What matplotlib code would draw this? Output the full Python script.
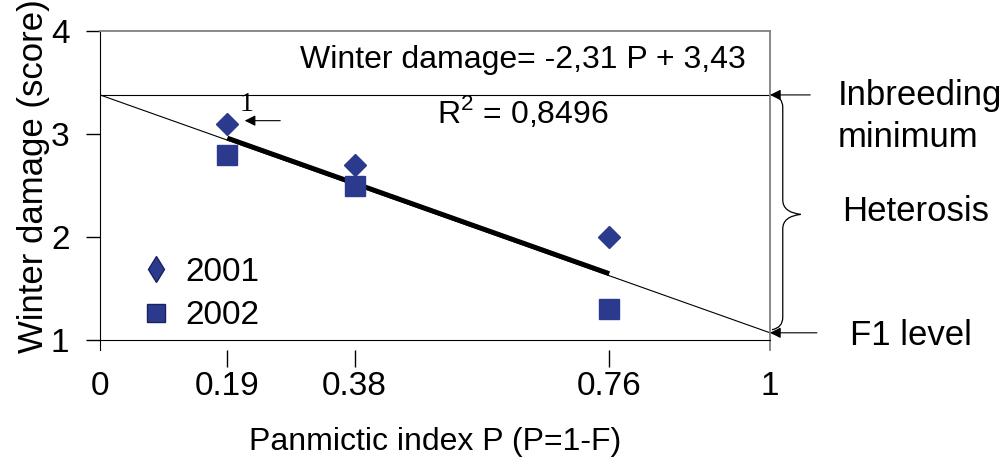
import matplotlib.pyplot as plt
from matplotlib.lines import Line2D
from matplotlib.path import Path
from matplotlib.patches import PathPatch

plt.rcParams['font.family'] = ['Liberation Sans', 'DejaVu Sans']
plt.rcParams['mathtext.fontset'] = 'custom'
plt.rcParams['mathtext.rm'] = 'Liberation Sans'

# panmictic index of the three groups and winter damage scores
p_index = [0.19, 0.38, 0.76]
damage_2001 = [3.1, 2.7, 2.0]
damage_2002 = [2.8, 2.5, 1.3]

# regression: winter damage = -2,31 P + 3,43 (thick part sits a bit above the thin line)
slope = -2.31
fit_intercept = 3.40
inbreeding_min = 3.38   # where the thin extrapolated line meets P=0
f1_level = inbreeding_min + slope

x_ticks = [0, 0.19, 0.38, 0.76, 1]
x_labels = ['0', '0.19', '0.38', '0.76', '1']
y_ticks = [1, 2, 3, 4]

navy = '#2B3A8C'

fig = plt.figure(figsize=(10.05, 4.57), dpi=100)
ax = fig.add_axes([0.0995, 0.256, 0.6667, 0.676])

# thin extrapolated line from inbreeding minimum to F1 level
ax.plot([0, 1], [inbreeding_min, f1_level], color='black', lw=0.8)
# thick fitted line over the data range
fit_x = [p_index[0], p_index[-1]]
fit_y = [slope * v + fit_intercept for v in fit_x]
ax.plot(fit_x, fit_y, color='black', lw=3.5, solid_capstyle='butt')
ax.plot([0, 1], [inbreeding_min, inbreeding_min], color='black', lw=0.8)

ax.plot(p_index, damage_2001, ls='', marker='D', ms=11, color=navy, mec=navy)
ax.plot(p_index, damage_2002, ls='', marker='s', ms=14, color=navy, mec=navy)

ax.set_xlim(0, 1)
ax.set_ylim(1, 4)

for side in ['top', 'right']:
    ax.spines[side].set_color('#808080')
    ax.spines[side].set_linewidth(1.3)
ax.spines['left'].set_bounds(0.9, 4)
ax.spines['right'].set_bounds(0.9, 4)

ax.set_yticks(y_ticks)
ax.set_yticklabels([str(v) for v in y_ticks])
ax.tick_params(axis='y', direction='out', length=10, width=1, pad=12, labelsize=24)
ax.set_xticks(x_ticks)
ax.set_xticklabels(x_labels)
ax.tick_params(axis='x', length=0, pad=22, labelsize=24)

# detached tick marks under the data positions
sec = ax.secondary_xaxis(-10 / 309)
sec.set_xticks(p_index)
sec.set_xticklabels([])
sec.tick_params(length=12, width=1, direction='out')
sec.spines['bottom'].set_visible(False)

ax.set_ylabel('Winter damage (score)', fontsize=25)
ax.yaxis.set_label_coords(-0.075, 0.53)
ax.set_xlabel('Panmictic index P (P=1-F)', fontsize=23)
ax.xaxis.set_label_coords(0.5, -0.28)

ax.text(0.631, 3.72, 'Winter damage= -2,31 P + 3,43', fontsize=23, ha='center', va='center')
ax.text(0.631, 3.21, r'R$^{2}$ = 0,8496', fontsize=23, ha='center', va='center')

arrow = dict(arrowstyle='-|>', color='black', lw=0.8, mutation_scale=16, shrinkA=0, shrinkB=0)
ax.text(0.219, 3.29, '1', family='Liberation Serif', fontsize=20, ha='center', va='center')
ax.annotate('', xy=(0.216, 3.13), xytext=(0.269, 3.13), arrowprops=arrow)
ax.annotate('', xy=(1.0, inbreeding_min), xytext=(1.06, inbreeding_min),
            arrowprops=arrow, annotation_clip=False)
ax.annotate('', xy=(1.0, f1_level), xytext=(1.07, f1_level),
            arrowprops=arrow, annotation_clip=False)

# curly brace spanning the heterosis range
top, bot, mid = 3.38, 1.10, 2.22
verts = [(1.003, top), (1.019, top - 0.02), (1.019, top - 0.12),
         (1.019, mid + 0.14),
         (1.019, mid + 0.02), (1.046, mid),
         (1.019, mid - 0.02), (1.019, mid - 0.14),
         (1.019, bot + 0.12),
         (1.019, bot + 0.02), (1.003, bot)]
codes = [Path.MOVETO, Path.CURVE3, Path.CURVE3, Path.LINETO,
         Path.CURVE3, Path.CURVE3, Path.CURVE3, Path.CURVE3,
         Path.LINETO, Path.CURVE3, Path.CURVE3]
ax.add_patch(PathPatch(Path(verts, codes), fill=False, lw=0.9, color='black', clip_on=False))

ax.text(1.101, 3.17, 'Inbreeding\nminimum', fontsize=25, ha='left', va='center',
        linespacing=1.35, clip_on=False)
ax.text(1.107, 2.25, 'Heterosis', fontsize=25, ha='left', va='center')
ax.text(1.119, 1.045, 'F1 level', fontsize=25, ha='left', va='center')

handles = [Line2D([], [], ls='', marker='d', ms=13, color=navy, mec='#1A2260'),
           Line2D([], [], ls='', marker='s', ms=13, color=navy, mec='#1A2260')]
ax.legend(handles, ['2001', '2002'], loc='center left', bbox_to_anchor=(0.044, 0.149),
          frameon=False, fontsize=24, handlelength=0.8, handletextpad=0.47,
          labelspacing=0.38, borderaxespad=0.0)

fig.savefig('out.png', dpi=100)
